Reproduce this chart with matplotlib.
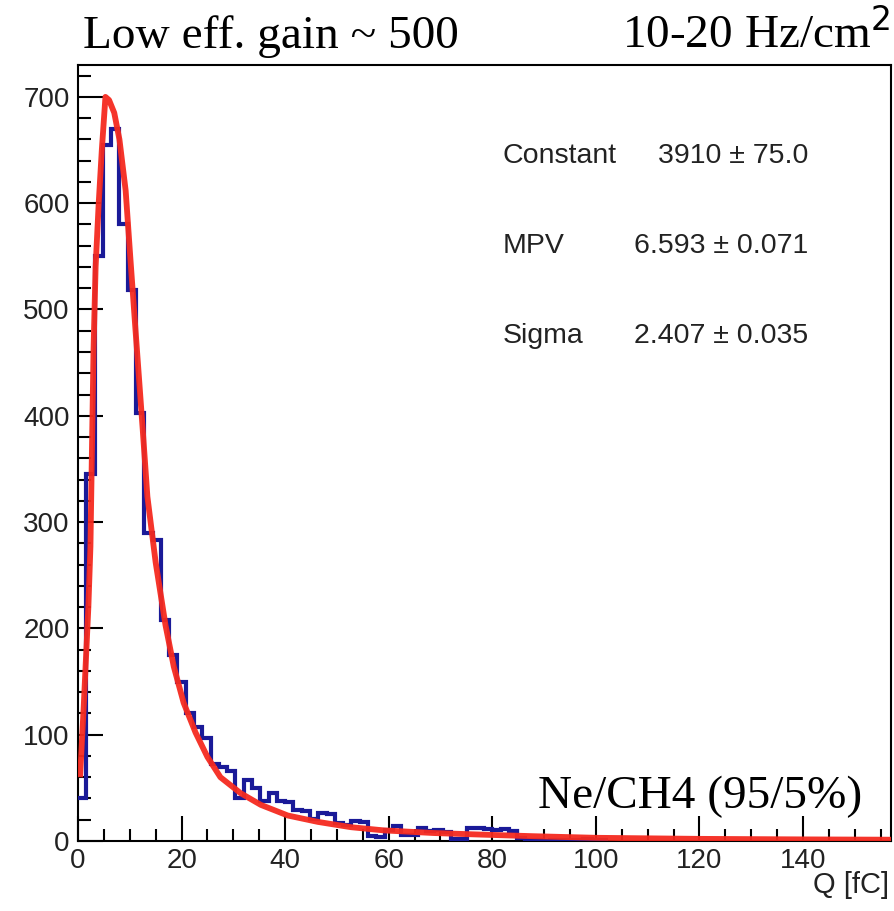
import numpy as np
import matplotlib
matplotlib.use("Agg")
import matplotlib.pyplot as plt
from matplotlib.ticker import MultipleLocator

# ---- data ----
bin_edges_start = 0.0
bin_width = 1.6
hist_counts = [40, 345, 550, 655, 670, 580, 518, 403, 290, 283,
               208, 175, 150, 120, 107, 97, 72, 70, 66, 40,
               57, 50, 38, 45, 38, 37, 29, 28, 21, 26,
               25, 17, 15, 19, 18, 5, 4, 10, 14, 6,
               6, 12, 9, 10, 8, 2, 2, 12, 12, 11,
               10, 11, 9, 3, 1, 1, 0, 1, 1, 1,
               1, 2, 1, 1]

fit_x = [0.4, 1.1, 2.0, 2.4, 3.0, 3.4, 4.0, 4.6, 5.3, 6.0, 7.0, 8.0, 9.2, 10.1,
         11.1, 12.5, 13.4, 15.0, 16.9, 18.5, 20.4, 22.7, 25.0, 27.5, 31.4,
         35.3, 40.5, 46.3, 52.7, 59.0, 68.7, 78.0, 88.0, 100.0, 120.0, 140.0, 158.0]
fit_y = [60, 126, 220, 277, 462, 540, 600, 650, 700, 697, 685, 660, 612, 549,
         481, 387, 324, 262, 203, 164, 130, 102, 79, 60, 45,
         34, 24, 18, 13, 10, 7.5, 6, 4.5, 3.0, 2.0, 1.5, 1.2]

x_ticks = [0, 20, 40, 60, 80, 100, 120, 140]
y_ticks = [0, 100, 200, 300, 400, 500, 600, 700]
x_max = 157.0
y_max = 730.0

stats_names = ["Constant", "MPV", "Sigma"]
stats_values = ["3910 \u00b1 75.0", "6.593 \u00b1 0.071", "2.407 \u00b1 0.035"]

title_left = "Low eff. gain ~ 500"
title_right = "10-20 Hz/cm$^{2}$"
gas_label = "Ne/CH4 (95/5%)"
x_label = "Q [fC]"

# ---- plot ----
W, H = 894, 911
fig = plt.figure(figsize=(W / 100, H / 100), dpi=100)
L, R, B, T = 78 / W, 891 / W, 1 - 841 / H, 1 - 65 / H
ax = fig.add_axes([L, B, R - L, T - B])

edges = bin_edges_start + bin_width * np.arange(len(hist_counts) + 1)
ax.stairs(hist_counts, edges, color="#1a1a98", lw=3.0, baseline=None, zorder=3)
ax.plot(fit_x, fit_y, color="#f52a1f", lw=4.2, zorder=4, solid_capstyle="butt",
        alpha=0.95)

ax.set_xlim(0, x_max)
ax.set_ylim(0, y_max)

ax.xaxis.set_minor_locator(MultipleLocator(5))
ax.yaxis.set_minor_locator(MultipleLocator(20))
ax.set_xticks(x_ticks)
ax.set_yticks(y_ticks)
ax.tick_params(which="both", direction="in", top=False, right=False,
               colors="black", width=1.5)
ax.tick_params(which="major", length=18, labelsize=20)
ax.tick_params(which="minor", length=9)
ax.tick_params(axis="x", which="major", pad=5)
ax.tick_params(axis="y", which="major", pad=6)
for lab in ax.get_xticklabels() + ax.get_yticklabels():
    lab.set_fontfamily("Liberation Sans")
    lab.set_color("#222222")
for s in ax.spines.values():
    s.set_linewidth(1.5)

fig.text(889 / W, 1 - 885 / H, x_label, ha="right", va="center",
         fontsize=21, family="Liberation Sans", color="#222222")

# stats box text
stat_y = [163, 253, 343]
for nm, val, py in zip(stats_names, stats_values, stat_y):
    fig.text(503 / W, 1 - py / H, nm, ha="left", va="baseline",
             fontsize=20.5, family="Liberation Sans", color="#222222")
    fig.text(808 / W, 1 - py / H, val, ha="right", va="baseline",
             fontsize=20.5, family="Liberation Sans", color="#222222")

fig.text(83 / W, 1 - 48 / H, title_left, ha="left", va="baseline",
         fontsize=34, family="Liberation Serif")
fig.text(890 / W, 1 - 48 / H, title_right, ha="right", va="baseline",
         fontsize=34, family="Liberation Serif")
fig.text(862 / W, 1 - 808 / H, gas_label, ha="right", va="baseline",
         fontsize=34, family="Liberation Serif")

fig.savefig("out.png", dpi=100)
